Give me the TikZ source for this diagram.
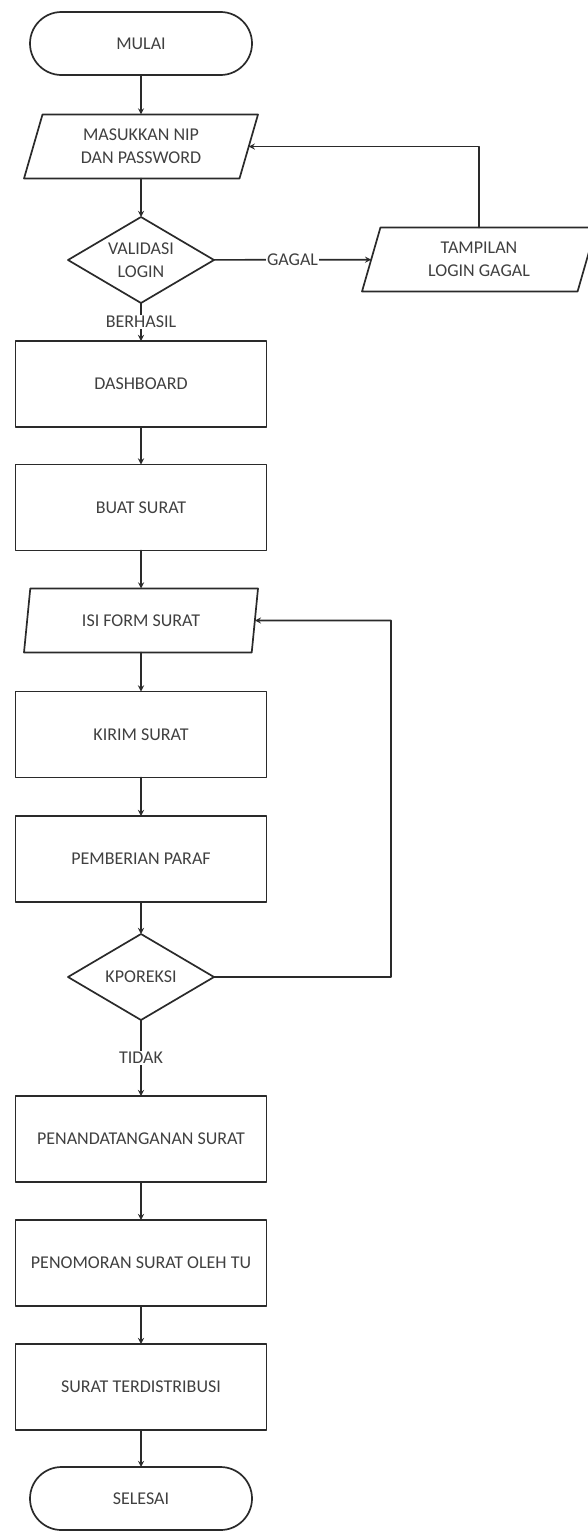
\documentclass[tikz,border=0pt]{standalone}
\usepackage{fontspec}
\setmainfont{Carlito}
\usepackage{tikz}
\usetikzlibrary{shapes.geometric,shapes.misc}

\definecolor{garis}{HTML}{2A2A2A}
\definecolor{teks}{HTML}{404040}

\begin{document}
\begin{tikzpicture}[x=1pt, y=-1pt, >=stealth, line cap=round, line join=round,
	font=\fontsize{18}{23}\selectfont,
	basis/.style={draw=garis, line width=1.7pt, text=teks, align=center, inner sep=0pt, outer sep=0pt},
	terminal/.style={basis, rounded rectangle, minimum width=222pt, minimum height=63pt},
	proses/.style={basis, rectangle, minimum width=251pt, minimum height=86pt},
	io/.style={basis, trapezium, trapezium left angle=62, trapezium right angle=118,
		trapezium stretches body, minimum width=234pt, minimum height=64pt},
	keputusan/.style={basis, diamond, aspect=1.7, minimum width=146pt, minimum height=86pt},
	alur/.style={->, draw=garis, line width=1.7pt},
	ket/.style={fill=white, text=teks, inner sep=1pt}]
		
		% --- Rahmen (ukuran gambar) ---
		\useasboundingbox (0,0) rectangle (588,1531);
		\clip (0,0) rectangle (588,1531);
		
		% --- Parameter ---
		\pgfmathsetmacro{\X}{141}   % kolom utama
		
		% --- Login ---
		\node[terminal] (mulai) at (\X,43.5) {MULAI};
		\node[io] (masuk) at (\X,146.5) {MASUKKAN NIP\\DAN PASSWORD};
		\node[keputusan] (validasi) at (\X,260) {VALIDASI\\LOGIN};
		\node[io] (tampil) at (479,259.5) {TAMPILAN\\LOGIN GAGAL};
		
		% --- Surat ---
		\node[proses] (dashboard) at (\X,384) {DASHBOARD};
		\node[proses] (buat) at (\X,507.5) {BUAT SURAT};
		\node[io] (isi) at (\X,620.5) {ISI FORM SURAT};
		\node[proses] (kirim) at (\X,734.5) {KIRIM SURAT};
		\node[proses] (paraf) at (\X,859) {PEMBERIAN PARAF};
		\node[keputusan] (koreksi) at (\X,977) {KPOREKSI};
		\node[proses] (ttd) at (\X,1139) {PENANDATANGANAN SURAT};
		\node[proses] (nomor) at (\X,1263) {PENOMORAN SURAT OLEH TU};
		\node[proses] (distribusi) at (\X,1387) {SURAT TERDISTRIBUSI};
		\node[terminal] (selesai) at (\X,1498.5) {SELESAI};
		
		\coordinate (balik) at (391,620.5);
		
		% --- Alur ---
		\draw[alur] (mulai) -- (masuk);
		\draw[alur] (masuk) -- (validasi);
		\draw[alur] (validasi) -- node[ket] {GAGAL} (tampil);
		\draw[alur] (tampil) |- (masuk);
		\draw[alur] (validasi) -- node[ket] {BERHASIL} (dashboard);
		\draw[alur] (dashboard) -- (buat);
		\draw[alur] (buat) -- (isi);
		\draw[alur] (isi) -- (kirim);
		\draw[alur] (kirim) -- (paraf);
		\draw[alur] (paraf) -- (koreksi);
		\draw[alur] (koreksi) -| (balik) -- (isi);
		\draw[alur] (koreksi) -- node[ket] {TIDAK} (ttd);
		\draw[alur] (ttd) -- (nomor);
		\draw[alur] (nomor) -- (distribusi);
		\draw[alur] (distribusi) -- (selesai);
		
	\end{tikzpicture}
\end{document}
